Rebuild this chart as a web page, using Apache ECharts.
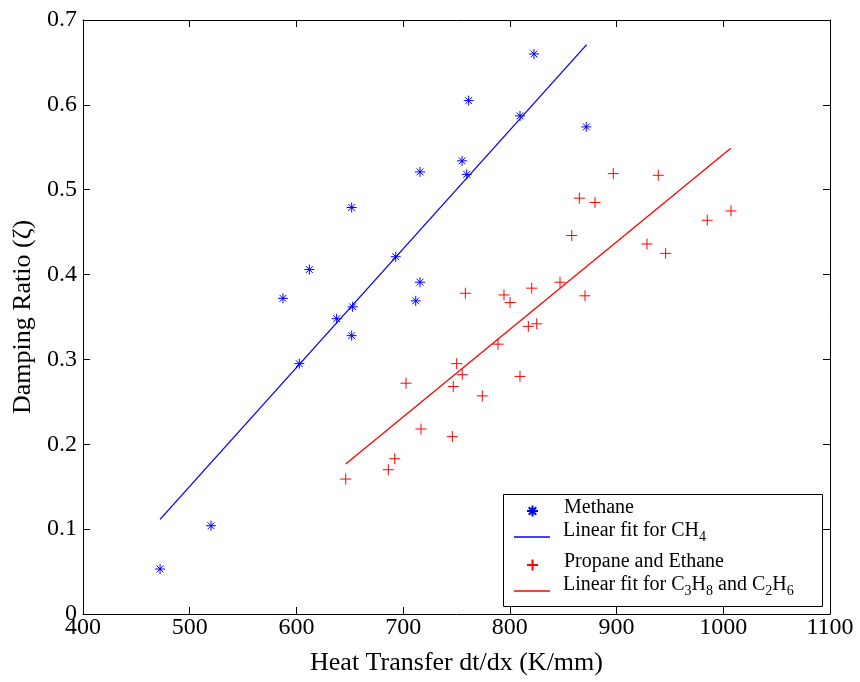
<!DOCTYPE html>
<html>
<head>
<meta charset="utf-8">
<script src="https://cdn.jsdelivr.net/npm/echarts@6/dist/echarts.min.js"></script>
<style>html,body{margin:0;padding:0;background:#fff}#c{width:860px;height:682px}</style>
</head>
<body>
<div id="c"></div>
<script>
// ---- data ----
const methaneX = [472.2, 520.0, 587.4, 602.7, 612.1, 637.7, 651.8, 652.7, 651.8, 693.0, 711.8, 715.8, 715.8, 755.2, 759.6, 761.4, 809.5, 822.6, 871.6];
const methaneY = [0.053, 0.104, 0.372, 0.295, 0.406, 0.348, 0.479, 0.362, 0.328, 0.421, 0.369, 0.391, 0.521, 0.534, 0.518, 0.605, 0.587, 0.660, 0.574];
const propaneX = [758.3, 794.5, 800.2, 820.5, 865.1, 879.8, 858.0, 847.0, 870.4, 817.3, 825.2, 788.9, 750.2, 755.4, 747.0, 702.7, 809.5, 774.2, 716.7, 746.1, 692.1, 686.1, 646.2, 896.9, 939.1, 985.0, 1007.2, 928.5, 946.0];
const propaneY = [0.378, 0.376, 0.367, 0.384, 0.490, 0.485, 0.446, 0.391, 0.375, 0.339, 0.342, 0.318, 0.295, 0.282, 0.268, 0.272, 0.280, 0.257, 0.218, 0.209, 0.183, 0.170, 0.159, 0.519, 0.517, 0.464, 0.475, 0.436, 0.425];
const fitCH4X = [472.2, 872.0];
const fitCH4Y = [0.1115, 0.671];
const fitC3X = [646.2, 1007.0];
const fitC3Y = [0.1767, 0.549];
const seriesNames = ['Methane', 'Linear fit for CH4', 'Propane and Ethane', 'Linear fit for C3H8 and C2H6'];
const xTicks = {min: 400, max: 1100, step: 100};
const yTicks = {min: 0, max: 0.7, step: 0.1};

const FONT = 'Liberation Serif';
const zip = (a, b) => a.map((v, i) => [v, b[i]]);
const starPath = 'path://M0,5L10,5M5,0L5,10M1.6,1.6L8.4,8.4M8.4,1.6L1.6,8.4';
const plusPath = 'path://M0,5L10,5M5,0L5,10';

const chart = echarts.init(document.getElementById('c'));

const richLabel = {
  t: {fontFamily: FONT, fontSize: 20, color: '#000'},
  s: {fontFamily: FONT, fontSize: 14, color: '#000', padding: [12, 0, 0, 0]}
};
function legendFmt(name) {
  if (name === seriesNames[1]) return '{t|Linear fit for CH}{s|4}';
  if (name === seriesNames[3]) return '{t|Linear fit for C}{s|3}{t|H}{s|8}{t| and C}{s|2}{t|H}{s|6}';
  return '{t|' + name + '}';
}
function mkLegend(name, icon, left, top, w, h, pad) {
  return {
    data: icon ? [{name: name, icon: icon}] : [name],
    left: left, top: top, orient: 'vertical',
    itemWidth: w, itemHeight: h, padding: 0, selectedMode: false,
    formatter: legendFmt,
    textStyle: {fontFamily: FONT, fontSize: 20, color: '#000', padding: pad, rich: richLabel}
  };
}

const axisCommon = {
  type: 'value',
  axisLine: {show: true, onZero: false, lineStyle: {color: '#000', width: 1}},
  axisTick: {show: true, inside: true, length: 7, lineStyle: {color: '#000'}},
  splitLine: {show: false}
};

chart.setOption({
  animation: false,
  backgroundColor: '#fff',
  grid: {left: 83, right: 30, top: 20, bottom: 68, containLabel: false, outerBoundsMode: 'none'},
  xAxis: [
    Object.assign({}, axisCommon, {
      min: xTicks.min, max: xTicks.max, interval: xTicks.step, position: 'bottom',
      axisLabel: {fontFamily: FONT, fontSize: 24, color: '#000', margin: 2, formatter: v => String(v)},
      name: 'Heat Transfer dt/dx (K/mm)', nameLocation: 'middle', nameGap: 36,
      nameTextStyle: {fontFamily: FONT, fontSize: 26, color: '#000'}
    }),
    Object.assign({}, axisCommon, {
      min: xTicks.min, max: xTicks.max, interval: xTicks.step, position: 'top',
      axisLabel: {show: false}
    })
  ],
  yAxis: [
    Object.assign({}, axisCommon, {
      min: yTicks.min, max: yTicks.max, interval: yTicks.step, position: 'left',
      axisLabel: {fontFamily: FONT, fontSize: 24, color: '#000', margin: 6, formatter: v => String(+v.toFixed(1))},
      name: 'Damping Ratio (ζ)', nameLocation: 'middle', nameGap: 45, nameRotate: 90,
      nameTextStyle: {fontFamily: FONT, fontSize: 26, color: '#000'}
    }),
    Object.assign({}, axisCommon, {
      min: yTicks.min, max: yTicks.max, interval: yTicks.step, position: 'right',
      axisLabel: {show: false}
    })
  ],
  graphic: [{
    type: 'rect', left: 503, top: 494, z: 0,
    shape: {width: 319, height: 112},
    style: {fill: '#fff', stroke: '#000', lineWidth: 1}
  }],
  legend: [
    mkLegend(seriesNames[0], null, 526, 498, 11, 11, [0, 0, 6, 21]),
    mkLegend(seriesNames[1], 'rect', 514, 521, 36, 1.5, [0, 0, 12, 8]),
    mkLegend(seriesNames[2], null, 526, 552, 11, 11, [0, 0, 6, 21]),
    mkLegend(seriesNames[3], 'rect', 514, 575, 36, 1.5, [0, 0, 12, 8])
  ],
  series: [
    {
      name: seriesNames[0], type: 'scatter', data: zip(methaneX, methaneY),
      symbol: starPath, symbolSize: 10,
      itemStyle: {color: 'rgba(0,0,0,0)', borderColor: '#0000ff', borderWidth: 1, opacity: 1}
    },
    {
      name: seriesNames[1], type: 'line', data: zip(fitCH4X, fitCH4Y),
      symbol: 'none', lineStyle: {color: '#0000ff', width: 1.3}, itemStyle: {color: '#0000ff'}
    },
    {
      name: seriesNames[2], type: 'scatter', data: zip(propaneX, propaneY),
      symbol: plusPath, symbolSize: 11,
      itemStyle: {color: 'rgba(0,0,0,0)', borderColor: '#ff0000', borderWidth: 1, opacity: 1}
    },
    {
      name: seriesNames[3], type: 'line', data: zip(fitC3X, fitC3Y),
      symbol: 'none', lineStyle: {color: '#ff0000', width: 1.3}, itemStyle: {color: '#ff0000'}
    }
  ]
});
</script>
</body>
</html>
